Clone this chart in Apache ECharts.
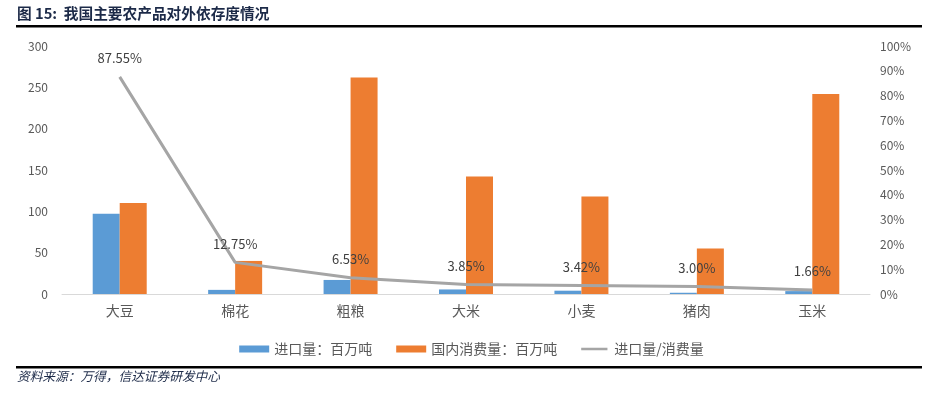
<!DOCTYPE html>
<html>
<head>
<meta charset="utf-8">
<script src="https://cdn.jsdelivr.net/npm/echarts@6/dist/echarts.min.js"></script>
<style>
html,body{margin:0;padding:0;background:#fff;}
#chart{width:943px;height:396px;}
</style>
</head>
<body>
<div id="chart"></div>
<script>
const categories = ['大豆', '棉花', '粗粮', '大米', '小麦', '猪肉', '玉米'];
const importVol = [97, 5, 17, 5.5, 4, 1.5, 3.5];
const domesticUse = [110, 40, 262, 142, 118, 55, 242];
const importRatio = [0.8755, 0.1275, 0.0653, 0.0385, 0.0342, 0.0300, 0.0166];
const leftTicks = [0, 50, 100, 150, 200, 250, 300];
const seriesNames = ['进口量：百万吨', '国内消费量：百万吨', '进口量/消费量'];

const chart = echarts.init(document.getElementById('chart'), null, {renderer: 'canvas'});
const font = '"Noto Sans CJK SC", "Microsoft YaHei", sans-serif';
chart.setOption({
  animation: false,
  textStyle: {fontFamily: font},
  grid: {left: 62, right: 73, top: 46, bottom: 102, containLabel: false},
  legend: {
    data: [
      {name: seriesNames[0], icon: 'rect'},
      {name: seriesNames[1], icon: 'rect'},
      {name: seriesNames[2], icon: 'path://M0,0L0.01,0M0,2.5L30,2.5L30,5.5L0,5.5ZM0,8L0.01,8', itemStyle: {color: '#A5A5A5'}}
    ],
    left: 'center', top: 337,
    itemWidth: 30, itemHeight: 7, itemGap: 24,
    textStyle: {color: '#595959', fontSize: 14, fontFamily: font}
  },
  xAxis: {
    type: 'category', data: categories,
    axisLine: {show: true, lineStyle: {color: '#D9D9D9', width: 1}},
    axisTick: {show: false},
    axisLabel: {color: '#595959', fontSize: 14, margin: 10}
  },
  yAxis: [
    {
      type: 'value', min: leftTicks[0], max: leftTicks[leftTicks.length - 1], interval: 50,
      splitLine: {show: false}, axisLine: {show: false}, axisTick: {show: false},
      axisLabel: {color: '#595959', fontSize: 12, margin: 14}
    },
    {
      type: 'value', min: 0, max: 1, interval: 0.1,
      splitLine: {show: false}, axisLine: {show: false}, axisTick: {show: false},
      axisLabel: {color: '#595959', fontSize: 12, margin: 10,
        formatter: v => Math.round(v * 100) + '%'}
    }
  ],
  series: [
    {
      name: seriesNames[0], type: 'bar', data: importVol, barWidth: 27, barGap: '0%',
      itemStyle: {color: '#5B9BD5'}
    },
    {
      name: seriesNames[1], type: 'bar', data: domesticUse, barWidth: 27, barGap: '0%',
      itemStyle: {color: '#ED7D31'}
    },
    {
      name: seriesNames[2], type: 'line', yAxisIndex: 1, data: importRatio,
      symbol: 'circle', symbolSize: 0, showSymbol: true, z: 5,
      lineStyle: {color: '#A5A5A5', width: 3},
      itemStyle: {color: '#A5A5A5'},
      label: {show: true, position: 'top', distance: 12, color: '#404040', fontSize: 13,
        formatter: p => (p.value * 100).toFixed(2) + '%'}
    }
  ],
  graphic: [
    {type: 'text', left: 17, top: 6, style: {text: '图 15:  我国主要农产品对外依存度情况', fill: '#1C2A48', font: 'bold 14.7px ' + font}},
    {type: 'rect', shape: {x: 16, y: 25, width: 906, height: 2.5}, style: {fill: '#000'}},
    {type: 'rect', shape: {x: 16, y: 366, width: 906, height: 2.5}, style: {fill: '#000'}},
    {type: 'text', left: 17, top: 370, style: {text: '资料来源：万得，信达证券研发中心', fill: '#1C2A48', font: 'italic 12.7px ' + font}}
  ]
});
</script>
</body>
</html>
